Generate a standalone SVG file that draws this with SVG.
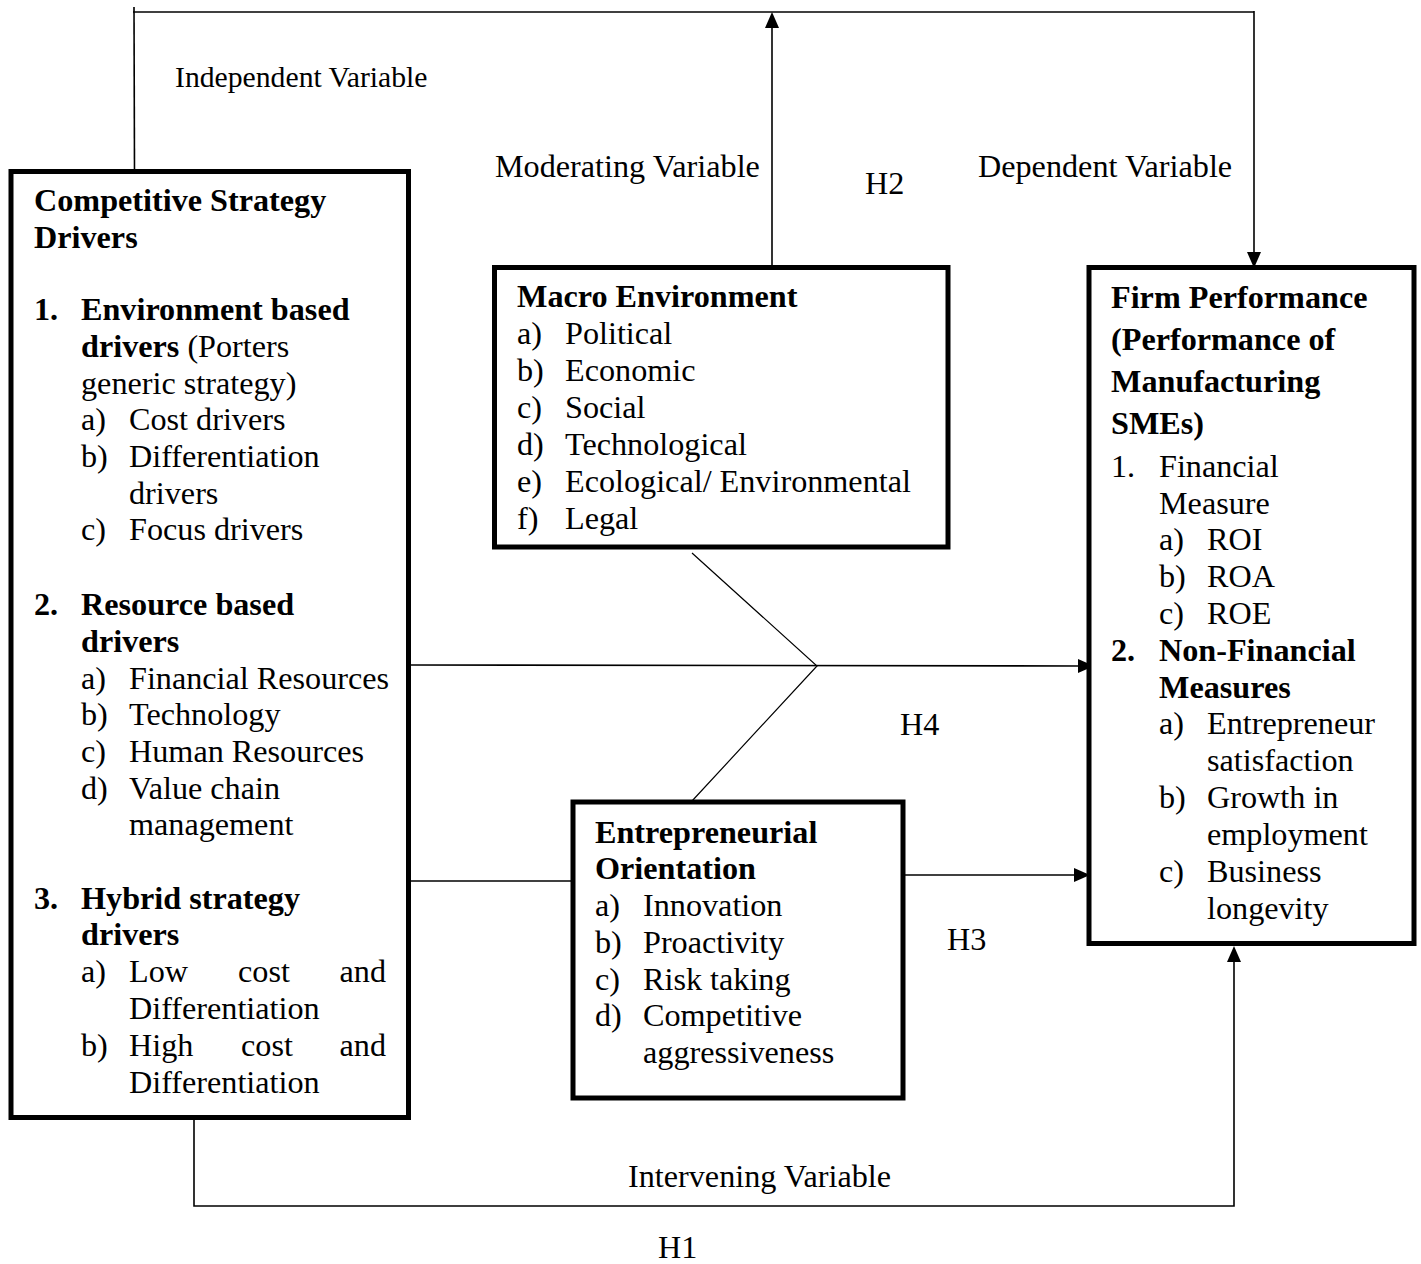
<svg xmlns="http://www.w3.org/2000/svg" width="1421" height="1264" viewBox="0 0 1421 1264">
<style>
text{font-family:"Liberation Serif","Times New Roman",serif;font-size:32.2px;fill:#000}
.b{font-weight:bold}
.small{font-size:29.7px}
.box{fill:#fff;stroke:#000;stroke-width:5}
.ln{fill:none;stroke:#000;stroke-width:1.6}
.thin{fill:none;stroke:#000;stroke-width:1.2}
.ah{fill:#000;stroke:none}
</style>
<rect width="1421" height="1264" fill="#fff"/>

<g id="connectors">
  <line class="ln" x1="134" y1="7" x2="134.5" y2="174"/>
  <line class="ln" x1="133" y1="12" x2="1254" y2="12"/>
  <line class="ln" x1="1254" y1="11" x2="1254" y2="254"/>
  <polygon class="ah" points="1247,252 1261,252 1254,268"/>
  <line class="ln" x1="772" y1="267" x2="772" y2="26"/>
  <polygon class="ah" points="765,28 779,28 772,12"/>
  <line class="ln" x1="409" y1="665" x2="1080" y2="666"/>
  <polygon class="ah" points="1078,659 1078,673 1094,666"/>
  <polyline class="thin" points="692,553 817,666 692,801"/>
  <line class="ln" x1="410" y1="881" x2="573" y2="881"/>
  <line class="ln" x1="905" y1="875" x2="1076" y2="875"/>
  <polygon class="ah" points="1074,868 1074,882 1090,875"/>
  <polyline class="ln" points="194,1119 194,1206 1234,1206 1234,960"/>
  <polygon class="ah" points="1227,962 1241,962 1234,946"/>
</g>

<g id="labels">
  <text class="small" x="175" y="87">Independent Variable</text>
  <text x="495" y="177">Moderating Variable</text>
  <text x="865" y="194">H2</text>
  <text x="978" y="177">Dependent Variable</text>
  <text x="900" y="735">H4</text>
  <text x="947" y="950">H3</text>
  <text x="628" y="1187">Intervening Variable</text>
  <text x="658" y="1258">H1</text>
</g>

<g id="competitive-strategy-drivers">
  <rect class="box" x="11" y="171.5" width="397.5" height="946"/>
  <text class="b" x="34" y="211">Competitive Strategy</text>
  <text class="b" x="34" y="248">Drivers</text>
  <text class="b" x="34" y="320">1.</text>
  <text class="b" x="81" y="320">Environment based</text>
  <text x="81" y="357"><tspan class="b">drivers</tspan> (Porters</text>
  <text x="81" y="393.5">generic strategy)</text>
  <text x="81" y="430">a)</text><text x="129" y="430">Cost drivers</text>
  <text x="81" y="467">b)</text><text x="129" y="467">Differentiation</text>
  <text x="129" y="503.5">drivers</text>
  <text x="81" y="540">c)</text><text x="129" y="540">Focus drivers</text>
  <text class="b" x="34" y="615">2.</text>
  <text class="b" x="81" y="615">Resource based</text>
  <text class="b" x="81" y="652">drivers</text>
  <text x="81" y="688.5">a)</text><text x="129" y="688.5">Financial Resources</text>
  <text x="81" y="725">b)</text><text x="129" y="725">Technology</text>
  <text x="81" y="762">c)</text><text x="129" y="762">Human Resources</text>
  <text x="81" y="798.5">d)</text><text x="129" y="798.5">Value chain</text>
  <text x="129" y="835">management</text>
  <text class="b" x="34" y="908.5">3.</text>
  <text class="b" x="81" y="908.5">Hybrid strategy</text>
  <text class="b" x="81" y="945">drivers</text>
  <text x="81" y="982">a)</text><text x="129" y="982">Low</text><text x="238" y="982">cost</text><text x="386" y="982" text-anchor="end">and</text>
  <text x="129" y="1019">Differentiation</text>
  <text x="81" y="1056">b)</text><text x="129" y="1056">High</text><text x="241" y="1056">cost</text><text x="386" y="1056" text-anchor="end">and</text>
  <text x="129" y="1092.5">Differentiation</text>
</g>

<g id="macro-environment">
  <rect class="box" x="494.5" y="267.5" width="453.5" height="279.5"/>
  <text class="b" x="517" y="307">Macro Environment</text>
  <text x="517" y="344">a)</text><text x="565" y="344">Political</text>
  <text x="517" y="381">b)</text><text x="565" y="381">Economic</text>
  <text x="517" y="418">c)</text><text x="565" y="418">Social</text>
  <text x="517" y="455">d)</text><text x="565" y="455">Technological</text>
  <text x="517" y="492">e)</text><text x="565" y="492">Ecological/ Environmental</text>
  <text x="517" y="528.5">f)</text><text x="565" y="528.5">Legal</text>
</g>

<g id="firm-performance">
  <rect class="box" x="1089" y="267.5" width="325" height="676"/>
  <text class="b" x="1111" y="308">Firm Performance</text>
  <text class="b" x="1111" y="350">(Performance of</text>
  <text class="b" x="1111" y="392">Manufacturing</text>
  <text class="b" x="1111" y="434">SMEs)</text>
  <text x="1111" y="477">1.</text><text x="1159" y="477">Financial</text>
  <text x="1159" y="514">Measure</text>
  <text x="1159" y="550">a)</text><text x="1207" y="550">ROI</text>
  <text x="1159" y="587">b)</text><text x="1207" y="587">ROA</text>
  <text x="1159" y="624">c)</text><text x="1207" y="624">ROE</text>
  <text class="b" x="1111" y="661">2.</text><text class="b" x="1159" y="661">Non-Financial</text>
  <text class="b" x="1159" y="697.5">Measures</text>
  <text x="1159" y="733.5">a)</text><text x="1207" y="733.5">Entrepreneur</text>
  <text x="1207" y="770.5">satisfaction</text>
  <text x="1159" y="808">b)</text><text x="1207" y="808">Growth in</text>
  <text x="1207" y="845">employment</text>
  <text x="1159" y="881.5">c)</text><text x="1207" y="881.5">Business</text>
  <text x="1207" y="919">longevity</text>
</g>

<g id="entrepreneurial-orientation">
  <rect class="box" x="573" y="802" width="330" height="296"/>
  <text class="b" x="595" y="843">Entrepreneurial</text>
  <text class="b" x="595" y="879">Orientation</text>
  <text x="595" y="916">a)</text><text x="643" y="916">Innovation</text>
  <text x="595" y="953">b)</text><text x="643" y="953">Proactivity</text>
  <text x="595" y="989.5">c)</text><text x="643" y="989.5">Risk taking</text>
  <text x="595" y="1026">d)</text><text x="643" y="1026">Competitive</text>
  <text x="643" y="1063">aggressiveness</text>
</g>
</svg>
